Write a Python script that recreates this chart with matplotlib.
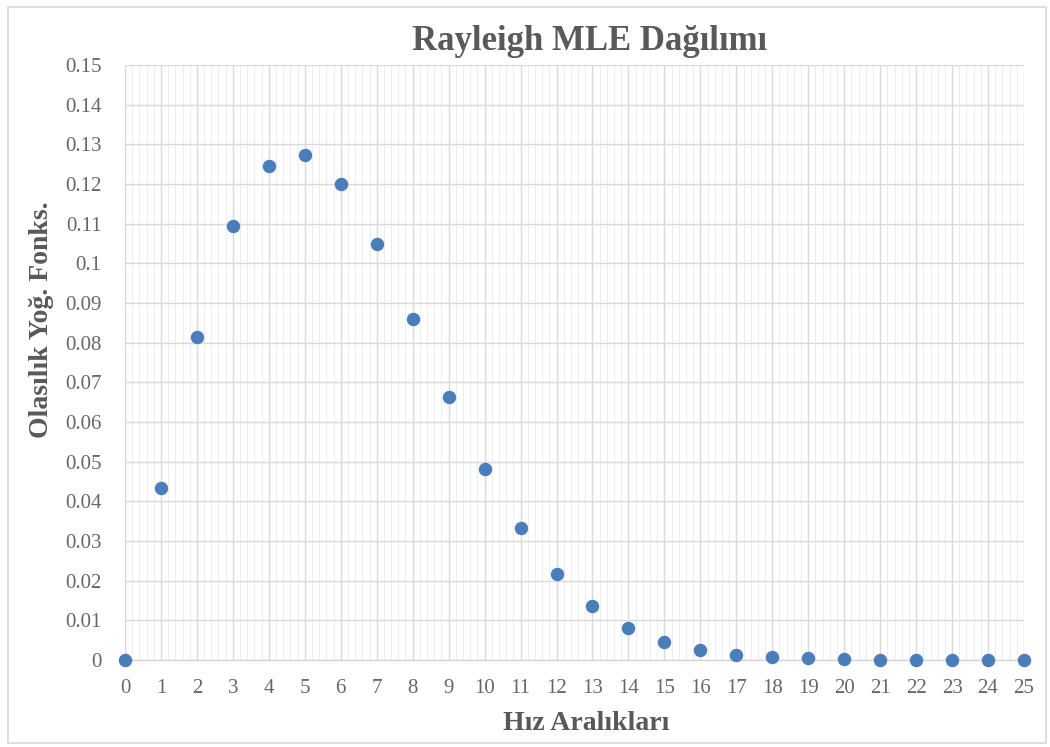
import matplotlib.pyplot as plt
from matplotlib.patches import Rectangle
from matplotlib.ticker import MultipleLocator

# Hız aralıkları ve Rayleigh MLE olasılık yoğunluk değerleri
hiz = list(range(0, 26))
pdf = [0.0, 0.0434, 0.0814, 0.1094, 0.1246, 0.1274, 0.1201, 0.1049, 0.0860,
       0.0662, 0.0481, 0.0333, 0.0217, 0.0136, 0.0081, 0.0045, 0.0024, 0.0013,
       0.0007, 0.0004, 0.0003, 0.0001, 0.0001, 0.0, 0.0, 0.0]
y_ticks = [round(0.01 * i, 2) for i in range(16)]
y_labels = ['0', '0.01', '0.02', '0.03', '0.04', '0.05', '0.06', '0.07', '0.08',
            '0.09', '0.1', '0.11', '0.12', '0.13', '0.14', '0.15']

text_color = '#595959'
plt.rcParams['font.family'] = ['Liberation Serif', 'DejaVu Serif']

W, H = 1050, 747
fig = plt.figure(figsize=(W / 100, H / 100), dpi=100)
ax = fig.add_axes([125 / W, 87 / H, 899 / W, 595 / H])

ax.scatter(hiz, pdf, s=75, color='#4a7ebb', zorder=3, clip_on=False)

ax.set_xlim(0, 25)
ax.set_ylim(0, 0.15)
ax.set_xticks(hiz)
ax.set_yticks(y_ticks)
ax.set_yticklabels(y_labels)
ax.xaxis.set_minor_locator(MultipleLocator(0.2))

ax.grid(which='major', color='#d9d9d9', linewidth=1.0)
ax.grid(which='minor', axis='x', color='#ededed', linewidth=0.8)
ax.set_axisbelow(True)

for side in ['top', 'right', 'left']:
    ax.spines[side].set_visible(False)
ax.spines['bottom'].set_color('#cfcfcf')
ax.tick_params(which='both', length=0)
ax.tick_params(axis='both', labelsize=15, colors='#666666')
ax.tick_params(axis='x', pad=14)
ax.tick_params(axis='y', pad=17)

fig.text(590 / W, 1 - 42 / H, 'Rayleigh MLE Dağılımı', fontsize=25,
         fontweight='bold', color=text_color, ha='center', va='center')
fig.text(586 / W, 1 - 724 / H, 'Hız Aralıkları', fontsize=20,
         fontweight='bold', color=text_color, ha='center', va='center')
fig.text(42 / W, 1 - 320 / H, 'Olasılık Yoğ. Fonks.', fontsize=20,
         fontweight='bold', color=text_color, ha='center', va='center',
         rotation=90)

# çerçeve
fig.patches.append(Rectangle((8 / W, 4 / H), 1038 / W, 736 / H,
                             transform=fig.transFigure, fill=False,
                             edgecolor='#d9d9d9', linewidth=1.2))

fig.savefig('out.png', dpi=100)
